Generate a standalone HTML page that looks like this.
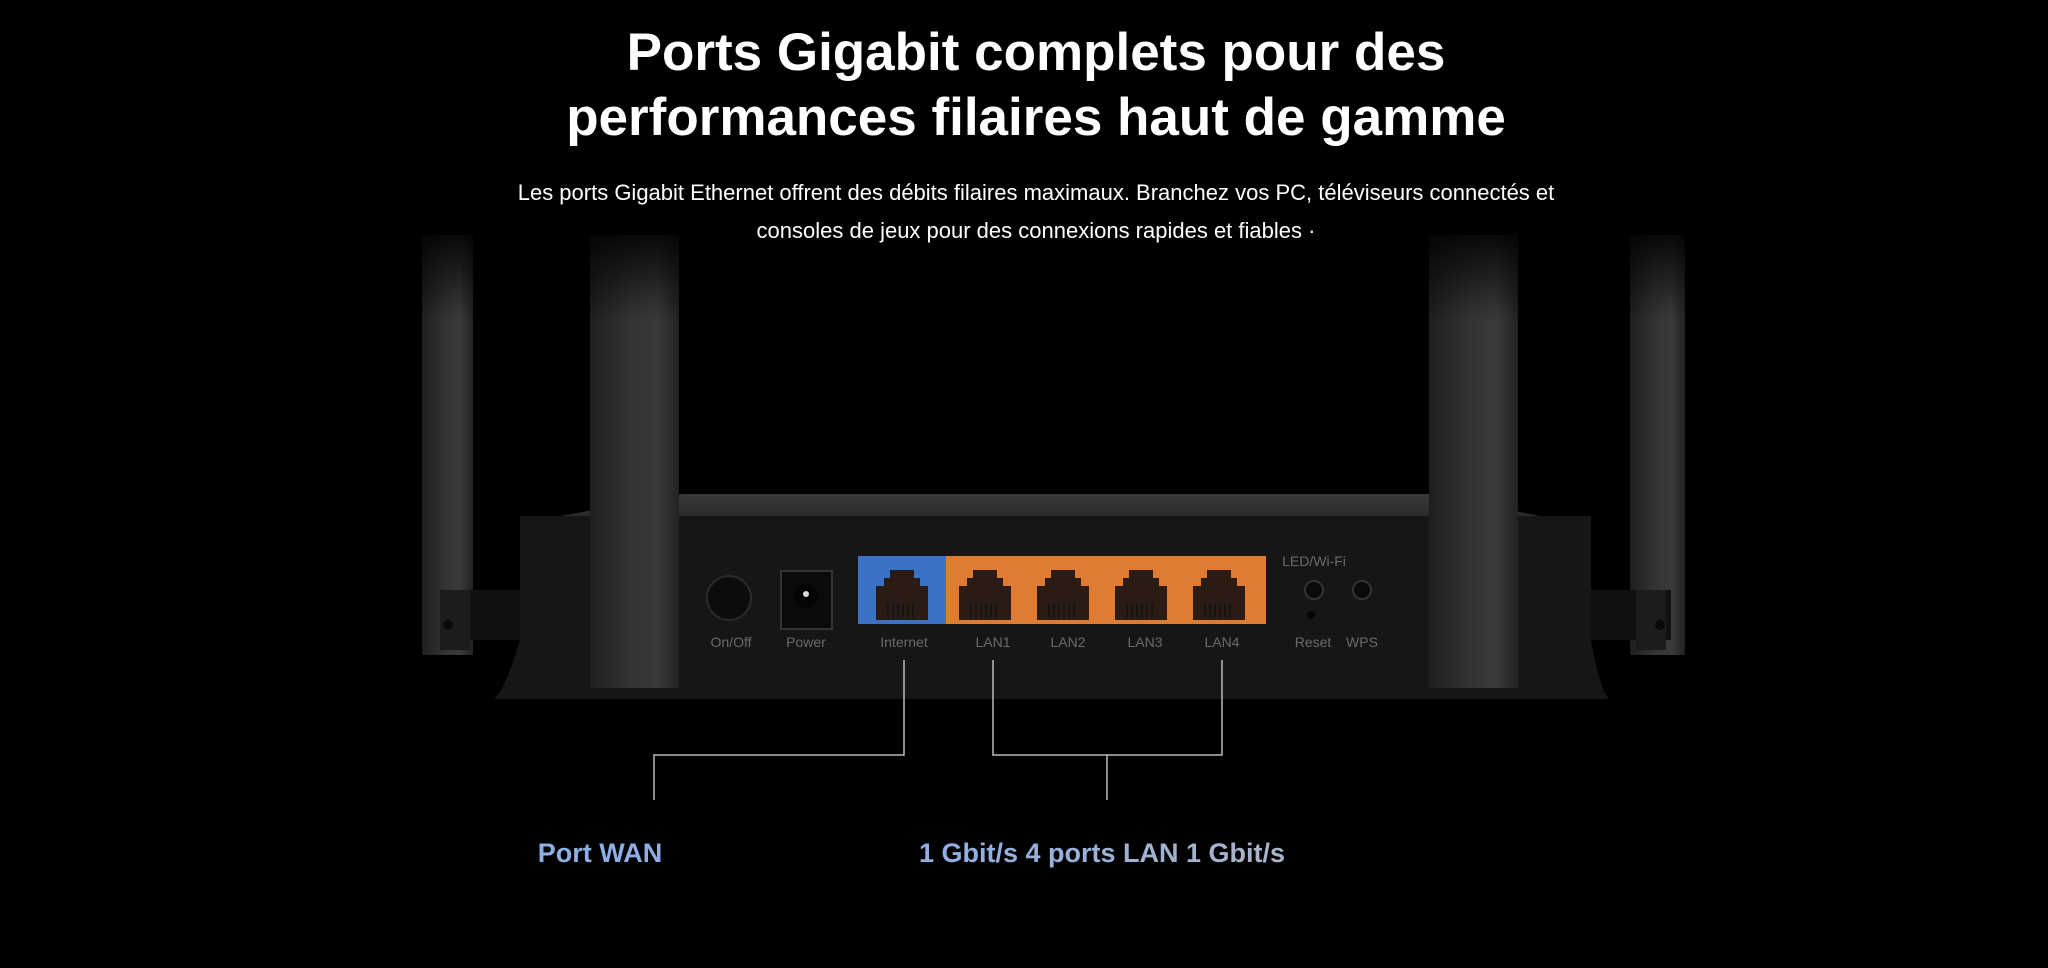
<!DOCTYPE html>
<html><head><meta charset="utf-8"><style>
html,body{margin:0;padding:0;background:#000;width:2048px;height:968px;overflow:hidden}
svg{display:block}
</style></head><body>
<svg width="2048" height="968" viewBox="0 0 2048 968" xmlns="http://www.w3.org/2000/svg" font-family="Liberation Sans, Arial, sans-serif">
<defs>
<linearGradient id="ant" x1="0" x2="1"><stop offset="0" stop-color="#1e1e1e"/><stop offset="0.45" stop-color="#333"/><stop offset="0.75" stop-color="#3a3a3a"/><stop offset="1" stop-color="#222"/></linearGradient>
<linearGradient id="antv" x1="0" y1="0" x2="0" y2="1"><stop offset="0" stop-color="#000" stop-opacity="0.9"/><stop offset="1" stop-color="#000" stop-opacity="0"/></linearGradient>
<linearGradient id="top" x1="0" y1="0" x2="0" y2="1"><stop offset="0" stop-color="#3a3a3a"/><stop offset="1" stop-color="#2a2a2a"/></linearGradient>
<linearGradient id="lbl" x1="0" x2="1"><stop offset="0" stop-color="#8eaee6"/><stop offset="1" stop-color="#a9b4c8"/></linearGradient>
<g id="port"><path d="M-26,-4 h8 v-8 h6 v-8 h24 v8 h6 v8 h8 v34 h-52z" fill="#2a1c14"/><g stroke="#111" stroke-width="1.5"><line x1="-14" y1="14" x2="-14" y2="28"/><line x1="-9" y1="14" x2="-9" y2="28"/><line x1="-4" y1="14" x2="-4" y2="28"/><line x1="1" y1="14" x2="1" y2="28"/><line x1="6" y1="14" x2="6" y2="28"/><line x1="11" y1="14" x2="11" y2="28"/></g></g>
</defs>
<rect x="422" y="235" width="51" height="420" fill="url(#ant)"/>
<rect x="1630" y="235" width="55" height="420" fill="url(#ant)"/>
<polygon points="560,516 682,494 1428,494 1540,516" fill="url(#top)"/>
<path d="M520,516 H1591 V640 Q1600,690 1609,699 H494 Q505,690 520,640 Z" fill="#161616"/>
<rect x="440" y="590" width="80" height="50" fill="#111"/>
<rect x="1591" y="590" width="80" height="50" fill="#111"/>
<rect x="440" y="590" width="30" height="60" fill="#1c1c1c"/>
<rect x="1636" y="590" width="30" height="60" fill="#1c1c1c"/>
<circle cx="448" cy="625" r="5" fill="#0a0a0a"/>
<circle cx="1660" cy="625" r="5" fill="#0a0a0a"/>
<rect x="590" y="235" width="89" height="453" fill="url(#ant)"/>
<rect x="1429" y="235" width="89" height="453" fill="url(#ant)"/>
<rect x="400" y="230" width="1300" height="90" fill="url(#antv)"/>
<circle cx="729" cy="598" r="22" fill="#0c0c0c" stroke="#2a2a2a" stroke-width="2"/>
<rect x="781" y="571" width="51" height="58" fill="#0a0a0a" stroke="#333" stroke-width="2"/>
<circle cx="806" cy="596" r="12" fill="#050505"/><circle cx="806" cy="594" r="3" fill="#ddd"/>
<rect x="858" y="556" width="88" height="68" fill="#3a72c4"/>
<rect x="946" y="556" width="320" height="68" fill="#e07b32"/>
<use href="#port" x="902" y="590"/>
<use href="#port" x="985" y="590"/>
<use href="#port" x="1063" y="590"/>
<use href="#port" x="1141" y="590"/>
<use href="#port" x="1219" y="590"/>
<circle cx="1314" cy="590" r="9" fill="#0a0a0a" stroke="#333" stroke-width="2"/>
<circle cx="1311" cy="615" r="4" fill="#050505"/>
<circle cx="1362" cy="590" r="9" fill="#0a0a0a" stroke="#333" stroke-width="2"/>
<g fill="#6a6a6a" font-size="14" text-anchor="middle">
<text x="1314" y="566">LED/Wi-Fi</text>
<text x="731" y="647">On/Off</text><text x="806" y="647">Power</text><text x="904" y="647">Internet</text>
<text x="993" y="647">LAN1</text><text x="1068" y="647">LAN2</text><text x="1145" y="647">LAN3</text><text x="1222" y="647">LAN4</text>
<text x="1313" y="647">Reset</text><text x="1362" y="647">WPS</text>
</g>
<g stroke="#bbb" stroke-width="1.5" fill="none">
<polyline points="904,660 904,755 654,755 654,800"/>
<polyline points="993,660 993,755 1222,755 1222,660"/>
<line x1="1107" y1="755" x2="1107" y2="800"/>
</g>
<g fill="#fff" font-weight="bold" font-size="53" text-anchor="middle">
<text x="1036" y="70">Ports Gigabit complets pour des</text>
<text x="1036" y="135">performances filaires haut de gamme</text>
</g>
<g fill="#fff" font-size="22" text-anchor="middle">
<text x="1036" y="200">Les ports Gigabit Ethernet offrent des débits filaires maximaux. Branchez vos PC, téléviseurs connectés et</text>
<text x="1036" y="238">consoles de jeux pour des connexions rapides et fiables ·</text>
</g>
<g font-weight="bold" font-size="27" text-anchor="middle">
<text x="600" y="862" fill="#8eaee6">Port WAN</text>
<text x="1102" y="862" fill="url(#lbl)">1 Gbit/s 4 ports LAN 1 Gbit/s</text>
</g>
</svg>
</body></html>
